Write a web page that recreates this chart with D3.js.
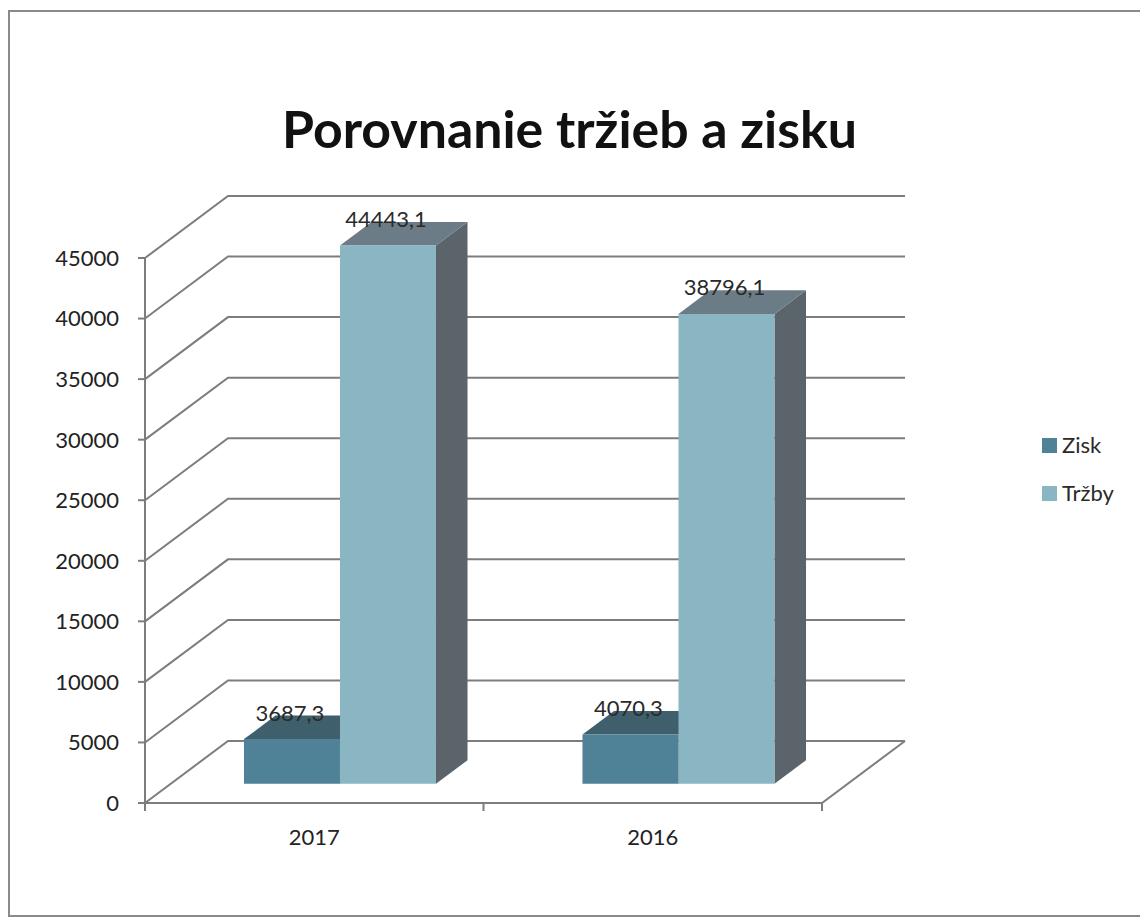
<!DOCTYPE html>
<html>
<head>
<meta charset="utf-8">
<script src="https://cdn.jsdelivr.net/npm/d3@7"></script>
<style>
  body { margin: 0; background: #fff; }
  text { font-family: Lato, "Open Sans", sans-serif; }
</style>
</head>
<body>
<div id="chart"></div>
<script>
// Dáta
const categories = ['2017', '2016'];
const seriesNames = ['Zisk', 'Tržby'];
const zisk = [3687.3, 4070.3];
const trzby = [44443.1, 38796.1];
const yTicks = [0, 5000, 10000, 15000, 20000, 25000, 30000, 35000, 40000, 45000];
const valueLabels = { 'Zisk': ['3687,3', '4070,3'], 'Tržby': ['44443,1', '38796,1'] };

const W = 1140, H = 918;
const svg = d3.select('#chart').append('svg').attr('width', W).attr('height', H);

// Rámček
svg.append('path')
  .attr('d', 'M1140,11 L9,11 L9,916 L1140,916')
  .attr('fill', 'none').attr('stroke', '#8a8a8a').attr('stroke-width', 2);

// 3D geometria
const depth = { dx: 83, dy: -62 };
const y = d3.scaleLinear().domain([0, 45000]).range([803, 258]);
const x = d3.scaleBand().domain(categories).range([145, 822]).paddingInner(0).paddingOuter(0);
const xs = d3.scaleBand().domain(seriesNames).range([0, x.bandwidth()]).paddingInner(0).paddingOuter(0.763);
const proj = (px, v, d) => [px + d * depth.dx, y(v) + d * depth.dy];
const gridColor = '#7d7d7d';

// Mriežka: zadná stena + ľavá stena
const grid = svg.append('g');
yTicks.forEach(t => {
  const a = proj(145, t, 0), b = proj(145, t, 1), c = proj(822, t, 1);
  grid.append('polyline')
    .attr('points', [a, b, c].map(p => p.join(',')).join(' '))
    .attr('fill', 'none').attr('stroke', gridColor).attr('stroke-width', 2);
});
// Podlaha
const f1 = proj(145, 0, 0), f2 = proj(822, 0, 0), f3 = proj(822, 0, 1);
grid.append('polyline')
  .attr('points', [f1, f2, f3].map(p => p.join(',')).join(' '))
  .attr('fill', 'none').attr('stroke', gridColor).attr('stroke-width', 2);

// Os Y
grid.append('line').attr('x1', 145).attr('x2', 145).attr('y1', y(0)).attr('y2', y(45000))
  .attr('stroke', gridColor).attr('stroke-width', 2);
yTicks.forEach(t => {
  grid.append('line').attr('x1', 138).attr('x2', 145).attr('y1', y(t)).attr('y2', y(t))
    .attr('stroke', gridColor).attr('stroke-width', 2);
  svg.append('text').attr('x', 119).attr('y', y(t)).attr('dy', '0.36em')
    .attr('text-anchor', 'end').attr('font-size', 22).attr('fill', '#222')
    .text(t);
});
// Os X ticky
[145, x('2016'), 822].forEach(px => {
  grid.append('line').attr('x1', px).attr('x2', px).attr('y1', y(0)).attr('y2', y(0) + 8)
    .attr('stroke', gridColor).attr('stroke-width', 2);
});
categories.forEach(c => {
  svg.append('text').attr('x', x(c) + x.bandwidth() / 2).attr('y', 845)
    .attr('text-anchor', 'middle').attr('font-size', 22).attr('fill', '#222').text(c);
});

// Stĺpce
const colors = {
  'Zisk': { front: '#4f8197', top: '#3e5f6b', side: '#39535e' },
  'Tržby': { front: '#8ab5c3', top: '#6b7c86', side: '#5b646b' }
};
const d0 = 0.31, d1 = 0.69;
const seriesData = { 'Zisk': zisk, 'Tržby': trzby };
const bars = svg.append('g');
const poly = pts => pts.map(p => p.join(',')).join(' ');

seriesNames.forEach(s => {
  categories.forEach((c, i) => {
    const v = seriesData[s][i];
    const xl = x(c) + xs(s), xr = xl + xs.bandwidth();
    const col = colors[s];
    // bočná stena
    bars.append('polygon')
      .attr('points', poly([proj(xr, 0, d0), proj(xr, 0, d1), proj(xr, v, d1), proj(xr, v, d0)]))
      .attr('fill', col.side);
    // horná stena
    bars.append('polygon')
      .attr('points', poly([proj(xl, v, d0), proj(xr, v, d0), proj(xr, v, d1), proj(xl, v, d1)]))
      .attr('fill', col.top);
    // predná stena
    bars.append('polygon')
      .attr('points', poly([proj(xl, 0, d0), proj(xr, 0, d0), proj(xr, v, d0), proj(xl, v, d0)]))
      .attr('fill', col.front);
  });
});

// Popisky hodnôt
seriesNames.forEach(s => {
  categories.forEach((c, i) => {
    const v = seriesData[s][i];
    const xc = x(c) + xs(s) + xs.bandwidth() / 2;
    const p = proj(xc, v, d1);
    svg.append('text').attr('x', proj(xc, v, d0)[0] - 2).attr('y', p[1] + 5)
      .attr('text-anchor', 'middle').attr('font-size', 22).attr('fill', '#2a2a2a')
      .text(valueLabels[s][i]);
  });
});

// Titulok
svg.append('text').attr('x', 569.5).attr('y', 148)
  .attr('text-anchor', 'middle').attr('font-size', 52).attr('font-weight', 'bold')
  .attr('fill', '#111')
  .attr('textLength', 575).attr('lengthAdjust', 'spacingAndGlyphs')
  .text('Porovnanie tržieb a zisku');

// Legenda
seriesNames.forEach((s, i) => {
  const ly = 438 + i * 48;
  svg.append('rect').attr('x', 1042).attr('y', ly).attr('width', 15).attr('height', 15)
    .attr('fill', colors[s].front);
  svg.append('text').attr('x', 1062).attr('y', ly + 15)
    .attr('font-size', 22).attr('fill', '#2a2a2a').text(s);
});
</script>
</body>
</html>
